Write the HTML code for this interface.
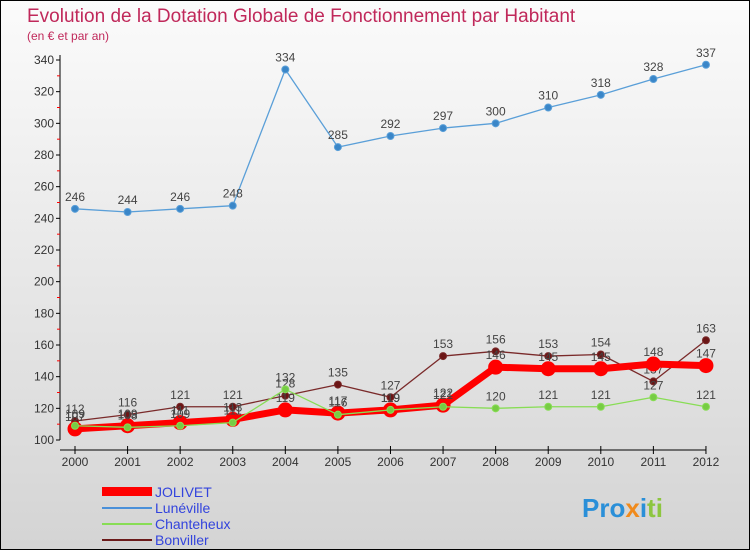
<!DOCTYPE html>
<html><head><meta charset="utf-8"><style>
body{margin:0;width:750px;height:550px;overflow:hidden;font-family:"Liberation Sans",sans-serif}
#wrap{position:absolute;left:0;top:0;width:748px;height:548px;border:1px solid #000;background:linear-gradient(#fbfbfb,#d4d4d4)}
</style></head><body>
<div id="wrap">
<svg width="750" height="550" style="position:absolute;left:-1px;top:-1px">
<text x="27" y="22" font-size="19" fill="#c0285a">Evolution de la Dotation Globale de Fonctionnement par Habitant</text>
<text x="27" y="40" font-size="12" fill="#c0285a">(en € et par an)</text>
<g id="axes"></g><g id="series"></g>
<g>
<rect x="102" y="487" width="50" height="9" fill="#f00"/>
<text x="155" y="497" font-size="14" fill="#3344dd">JOLIVET</text>
<line x1="102" y1="508" x2="152" y2="508" stroke="#4a90d9" stroke-width="2"/>
<text x="155" y="513" font-size="14" fill="#3344dd">Lunéville</text>
<line x1="102" y1="524" x2="152" y2="524" stroke="#88dd55" stroke-width="2"/>
<text x="155" y="529" font-size="14" fill="#3344dd">Chanteheux</text>
<line x1="102" y1="540" x2="152" y2="540" stroke="#6b1a1a" stroke-width="2"/>
<text x="155" y="545" font-size="14" fill="#3344dd">Bonviller</text>
</g>
<text x="582" y="517" font-size="26" font-weight="bold"><tspan fill="#2a8fd8">Pro</tspan><tspan fill="#f08a1c">x</tspan><tspan fill="#2a8fd8">i</tspan><tspan fill="#8dc63f">ti</tspan></text>
</svg></div>
<script>
const years=[2000,2001,2002,2003,2004,2005,2006,2007,2008,2009,2010,2011,2012];
const yTicks=[100,120,140,160,180,200,220,240,260,280,300,320,340];
const jolivet=[107,109,111,113,119,117,119,122,146,145,145,148,147];
const luneville=[246,244,246,248,334,285,292,297,300,310,318,328,337];
const chanteheux=[109,108,109,111,132,116,119,121,120,121,121,127,121];
const bonviller=[112,116,121,121,128,135,127,153,156,153,154,137,163];
const NS="http://www.w3.org/2000/svg";
const xs=i=>75+i*52.58;
const ys=v=>440-(v-100)*380/240;
function mk(t,a,p){const e=document.createElementNS(NS,t);for(const k in a)e.setAttribute(k,a[k]);p.appendChild(e);return e;}
const ax=document.getElementById('axes');
let l=mk('line',{x1:60,y1:55,x2:60,y2:440,stroke:'#000'},ax);


l=mk('line',{x1:60,y1:450,x2:706,y2:450,stroke:'#000'},ax);


yTicks.forEach(v=>{const y=ys(v);
mk('line',{x1:56,y1:y,x2:60,y2:y,stroke:'#000'},ax);
if(v<340)mk('line',{x1:57,y1:ys(v+10),x2:60,y2:ys(v+10),stroke:'#f00'},ax);
const t=mk('text',{x:54,y:y+4,'font-size':12,'text-anchor':'end',fill:'#333'},ax);t.textContent=v;

});
years.forEach((yr,i)=>{const x=xs(i);
mk('line',{x1:x,y1:446,x2:x,y2:454,stroke:'#000'},ax);
const t=mk('text',{x:x,y:466,'font-size':12,'text-anchor':'middle',fill:'#333'},ax);t.textContent=yr;

});
const sg=document.getElementById('series');
function draw(name,data,color,w,r,dot,labelDy){
const g=mk('g',{},sg);


mk('polyline',{points:data.map((v,i)=>xs(i)+','+ys(v)).join(' '),fill:'none',stroke:color,'stroke-width':w,'stroke-linejoin':'round'},g);
data.forEach((v,i)=>{const c=mk('circle',{cx:xs(i),cy:ys(v),r:r,fill:dot,stroke:color,'stroke-width':1},g);


const t=mk('text',{x:xs(i),y:ys(v)+labelDy,'font-size':12,'text-anchor':'middle',fill:'#444'},g);t.textContent=v;

});}
draw('luneville',luneville,'#5a9fd8',1.3,3.5,'#3a86c8',-8);
draw('bonviller',bonviller,'#7a2a2a',1.3,3.5,'#6b1515',-8);
draw('jolivet',jolivet,'#f00',7,7,'#f00',-8);
draw('chanteheux',chanteheux,'#88dd55',1.3,3.5,'#77cc44',-8);
</script></body></html>
